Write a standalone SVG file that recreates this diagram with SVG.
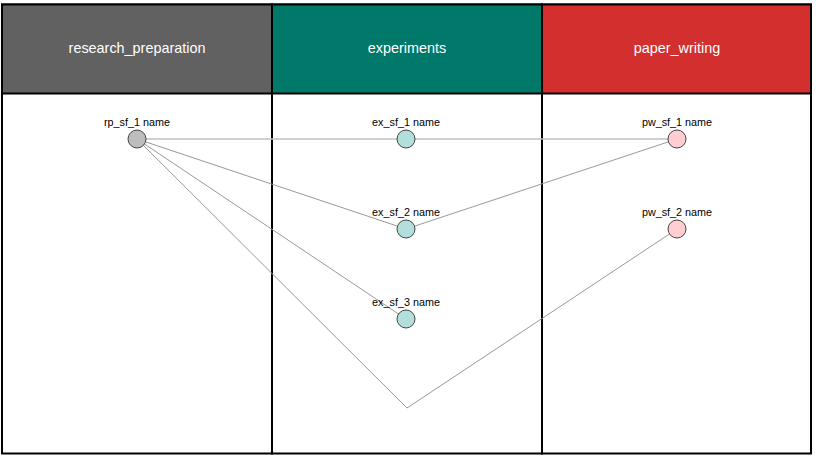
<svg xmlns="http://www.w3.org/2000/svg" width="819" height="460" viewBox="0 0 819 460">
<style>
.hdr{font-family:"Liberation Sans",Arial,sans-serif;font-size:14.4px;fill:#ffffff;text-anchor:middle}
.lbl{font-family:"Liberation Sans",Arial,sans-serif;font-size:10.8px;fill:#000000;text-anchor:middle}
.lane{fill:#ffffff;stroke:#000000;stroke-width:2}
.edge{fill:none;stroke:#999999;stroke-width:1}
.edge2{fill:none;stroke:#c0c0c0;stroke-width:1.6}
.node{stroke:#444444;stroke-width:1}
</style>
<rect x="0" y="0" width="819" height="460" fill="#ffffff"/>
<g id="lanes">
<g id="lane_research_preparation">
<rect class="lane" x="2" y="4.5" width="270" height="449"/>
<rect x="2" y="4.5" width="270" height="89" fill="#616161" stroke="#000" stroke-width="2"/>
<text class="hdr" x="137" y="53">research_preparation</text>
</g>
<g id="lane_experiments">
<rect class="lane" x="272" y="4.5" width="270" height="449"/>
<rect x="272" y="4.5" width="270" height="89" fill="#00796b" stroke="#000" stroke-width="2"/>
<text class="hdr" x="407" y="53">experiments</text>
</g>
<g id="lane_paper_writing">
<rect class="lane" x="542" y="4.5" width="269" height="449"/>
<rect x="542" y="4.5" width="269" height="89" fill="#d32f2f" stroke="#000" stroke-width="2"/>
<text class="hdr" x="677" y="53">paper_writing</text>
</g>
</g>
<g id="connectors">
<line class="edge2" x1="137" y1="139" x2="677" y2="139"/>
<line class="edge" x1="137" y1="139" x2="406" y2="229"/>
<line class="edge" x1="137" y1="139" x2="406" y2="319"/>
<polyline class="edge" points="137,139 407,408 677,229"/>
<line class="edge" x1="406" y1="229" x2="677" y2="139"/>
</g>
<g id="rp_sf_1">
<circle class="node" cx="137" cy="139" r="9" fill="#bdbdbd"/>
<text class="lbl" x="137" y="126">rp_sf_1 name</text>
</g>
<g id="ex_sf_1">
<circle class="node" cx="406" cy="139" r="9" fill="#b2dfdb"/>
<text class="lbl" x="406" y="126">ex_sf_1 name</text>
</g>
<g id="ex_sf_2">
<circle class="node" cx="406" cy="229" r="9" fill="#b2dfdb"/>
<text class="lbl" x="406" y="216">ex_sf_2 name</text>
</g>
<g id="ex_sf_3">
<circle class="node" cx="406" cy="319" r="9" fill="#b2dfdb"/>
<text class="lbl" x="406" y="306">ex_sf_3 name</text>
</g>
<g id="pw_sf_1">
<circle class="node" cx="677" cy="139" r="9" fill="#ffcdd2"/>
<text class="lbl" x="677" y="126">pw_sf_1 name</text>
</g>
<g id="pw_sf_2">
<circle class="node" cx="677" cy="229" r="9" fill="#ffcdd2"/>
<text class="lbl" x="677" y="216">pw_sf_2 name</text>
</g>
</svg>
